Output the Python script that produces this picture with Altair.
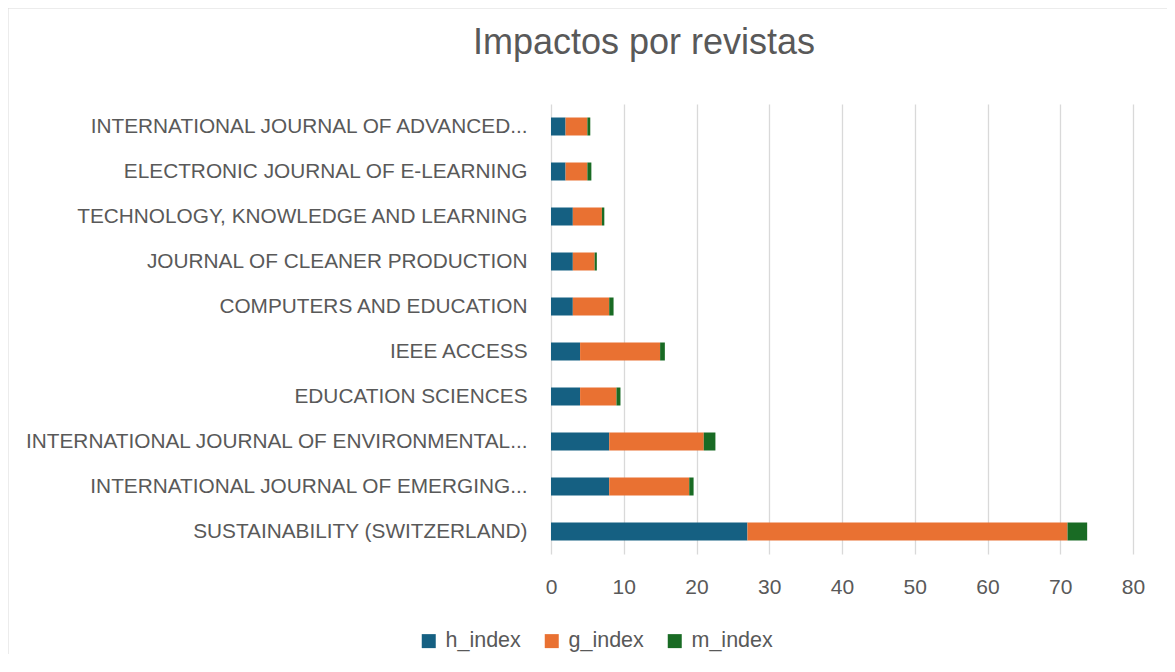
import altair as alt
import pandas as pd

journals = [
    "INTERNATIONAL JOURNAL OF ADVANCED...",
    "ELECTRONIC JOURNAL OF E-LEARNING",
    "TECHNOLOGY, KNOWLEDGE AND LEARNING",
    "JOURNAL OF CLEANER PRODUCTION",
    "COMPUTERS AND EDUCATION",
    "IEEE ACCESS",
    "EDUCATION SCIENCES",
    "INTERNATIONAL JOURNAL OF ENVIRONMENTAL...",
    "INTERNATIONAL JOURNAL OF EMERGING...",
    "SUSTAINABILITY (SWITZERLAND)",
]
h_index = [2, 2, 3, 3, 3, 4, 4, 8, 8, 27]
g_index = [3, 3, 4, 3, 5, 11, 5, 13, 11, 44]
m_index = [0.4, 0.55, 0.33, 0.3, 0.6, 0.65, 0.55, 1.6, 0.6, 2.7]
series = ["h_index", "g_index", "m_index"]
colors = ["#156082", "#E97132", "#196B24"]
x_ticks = [0, 10, 20, 30, 40, 50, 60, 70, 80]

rows = []
for i, j in enumerate(journals):
    for k, (s, vals) in enumerate(zip(series, [h_index, g_index, m_index])):
        rows.append({"journal": j, "series": s, "value": vals[i], "order": k})
df = pd.DataFrame(rows)

FONT = "Liberation Sans"
GRAY = "#595959"
W, H = 582, 450

bars = alt.Chart(df).mark_bar().encode(
    y=alt.Y("journal:N", sort=journals, title=None,
            scale=alt.Scale(paddingInner=0.6, paddingOuter=0.3),
            axis=alt.Axis(labelFontSize=20.8, labelFont=FONT, labelColor=GRAY,
                          labelLimit=600, labelPadding=24, ticks=False,
                          domain=False, grid=False)),
    x=alt.X("value:Q", stack="zero", title=None,
            scale=alt.Scale(domain=[0, 80], nice=False),
            axis=alt.Axis(values=x_ticks, labelFontSize=21, labelFont=FONT,
                          labelColor=GRAY, labelPadding=22, ticks=False,
                          labelFlush=False,
                          domain=False, grid=True, gridColor="#d9d9d9",
                          gridWidth=1.3)),
    color=alt.Color("series:N", sort=series,
                    scale=alt.Scale(domain=series, range=colors),
                    legend=alt.Legend(title=None, orient="none",
                                      direction="horizontal",
                                      legendX=-133, legendY=526,
                                      symbolType="square", symbolSize=196,
                                      symbolStrokeWidth=0,
                                      labelFontSize=21.5, labelFont=FONT,
                                      labelColor=GRAY, labelOffset=6,
                                      columnPadding=20, padding=0)),
    order=alt.Order("order:Q"),
)

frame_data = alt.Data(values=[{"a": 1}])
left_border = alt.Chart(frame_data).mark_rule(color="#d9d9d9", strokeWidth=1).encode(
    x=alt.value(-543), y=alt.value(-96), y2=alt.value(H + 110))
top_border = alt.Chart(frame_data).mark_rule(color="#d9d9d9", strokeWidth=1).encode(
    x=alt.value(-543), x2=alt.value(W + 40), y=alt.value(-96))

chart = alt.layer(bars, left_border, top_border).properties(
    width=W, height=H,
    background="white",
    title=alt.Title("Impactos por revistas", fontSize=36, font=FONT,
                    fontWeight="normal", color=GRAY, anchor="middle",
                    dx=-198, dy=54, offset=0),
    autosize=alt.AutoSizeParams(type="none"),
    padding={"left": 543, "top": 96, "right": 34, "bottom": 100},
).configure_view(strokeWidth=0)

chart.save("out.html", embed_options={"renderer": "svg", "actions": False})
